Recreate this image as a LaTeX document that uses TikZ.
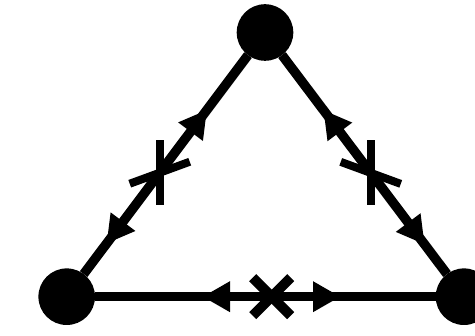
\documentclass[tikz,border=0pt]{standalone}
\usetikzlibrary{calc,decorations.markings}
\begin{document}
\begin{tikzpicture}[x=1pt,y=-1pt,
  vertex/.style={circle,fill=black,inner sep=0pt,outer sep=0pt,minimum size=56.6pt},
  edge/.style={line width=9.5pt,postaction={decorate}},
  bar/.style={line width=8pt},
  xbar/.style={line width=10pt}]
\useasboundingbox (0,0) rectangle (475,336);
\node[vertex] (A) at (265,32.5) {};
\node[vertex] (B) at (66.7,296.7) {};
\node[vertex] (C) at (464,296.7) {};
% left edge
\draw[edge,decoration={markings,
  mark=at position 38.5pt with {\fill (0,0) -- (27,15.5) -- (27,-15.5) -- cycle;},
  mark=at position 205pt with {\fill (0,0) -- (-27,15.5) -- (-27,-15.5) -- cycle;}}]
  (B) -- (A);
% right edge
\draw[edge,decoration={markings,
  mark=at position 37.5pt with {\fill (0,0) -- (27,15.5) -- (27,-15.5) -- cycle;},
  mark=at position 205pt with {\fill (0,0) -- (-27,15.5) -- (-27,-15.5) -- cycle;}}]
  (C) -- (A);
% bottom edge
\draw[edge,decoration={markings,
  mark=at position 108pt with {\fill (0,0) -- (27,15.5) -- (27,-15.5) -- cycle;},
  mark=at position 245pt with {\fill (0,0) -- (-27,15.5) -- (-27,-15.5) -- cycle;}}]
  (B) -- (C);
% crosses
\coordinate (X1) at ($(B)!155pt!(A)$);
\coordinate (X2) at ($(C)!155pt!(A)$);
\coordinate (X3) at ($(B)!205pt!(C)$);
\draw[bar] ($(X1)+(0,-32.5)$) -- ($(X1)+(0,32.5)$);
\draw[bar] ($(X1)+(-30,11)$) -- ($(X1)+(30,-11)$);
\draw[bar] ($(X2)+(0,-32.5)$) -- ($(X2)+(0,32.5)$);
\draw[bar] ($(X2)+(-30,-11)$) -- ($(X2)+(30,11)$);
\draw[xbar] ($(X3)+(-19,-19)$) -- ($(X3)+(19,19)$);
\draw[xbar] ($(X3)+(-19,19)$) -- ($(X3)+(19,-19)$);
\end{tikzpicture}
\end{document}
